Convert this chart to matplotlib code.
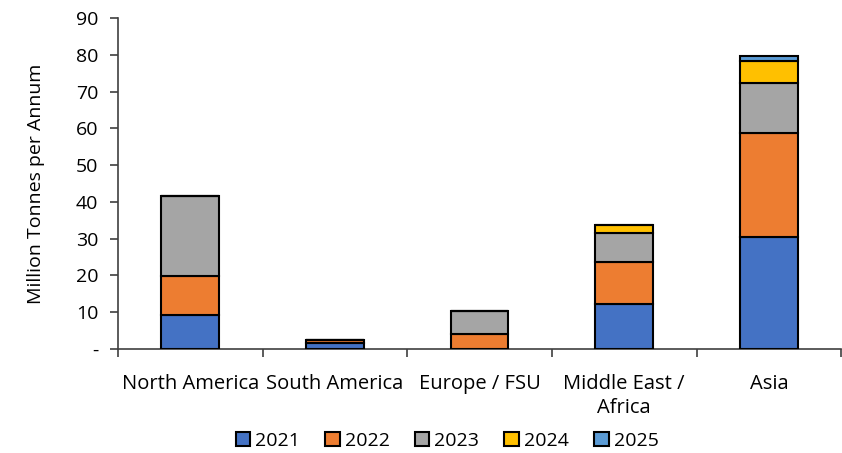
import numpy as np
import matplotlib
matplotlib.use('Agg')
import matplotlib.pyplot as plt
from matplotlib.ticker import FixedLocator

plt.rcParams['font.family'] = ['Open Sans', 'DejaVu Sans']

regions = ['North America', 'South America', 'Europe / FSU', 'Middle East /\nAfrica', 'Asia']
years = ['2021', '2022', '2023', '2024', '2025']
v2021 = [9.3, 1.6, 0.0, 12.3, 30.5]
v2022 = [10.5, 0.8, 4.2, 11.3, 28.2]
v2023 = [21.7, 0.0, 6.2, 7.9, 13.7]
v2024 = [0.2, 0.0, 0.0, 2.3, 6.0]
v2025 = [0.0, 0.0, 0.0, 0.0, 1.3]
colors = ['#4472C4', '#ED7D31', '#A5A5A5', '#FFC000', '#5B9BD5']

fig = plt.figure(figsize=(8.42, 4.53), dpi=100)
ax = fig.add_axes([0.140, 0.2296, 0.859, 0.7307])

x = np.arange(len(regions))
bottom = np.zeros(len(regions))
for yr, vals, c in zip(years, [v2021, v2022, v2023, v2024, v2025], colors):
    vals = np.array(vals)
    ax.bar(x, vals, 0.4, bottom=bottom, color=c, edgecolor='black',
           linewidth=1.5, label=yr, zorder=3)
    bottom += vals

ax.set_xlim(-0.5, len(regions) - 0.5)
ax.set_ylim(0, 90)
ax.set_yticks(np.arange(0, 91, 10))
ax.set_yticklabels(['-'] + [str(v) for v in range(10, 91, 10)])
ax.set_xticks(x)
ax.set_xticklabels(regions, linespacing=1.25)
ax.xaxis.set_minor_locator(FixedLocator(np.arange(-0.5, len(regions), 1.0)))
ax.tick_params(axis='x', which='major', length=0, pad=18, labelsize=14.5)
ax.tick_params(axis='x', which='minor', length=6, width=1.2, color='#404040')
ax.tick_params(axis='y', length=6, width=1.2, color='#404040', labelsize=14, pad=8)
ax.set_ylabel('Million Tonnes per Annum', fontsize=14, labelpad=22)

for s in ['top', 'right']:
    ax.spines[s].set_visible(False)
for s in ['left', 'bottom']:
    ax.spines[s].set_color('#404040')
    ax.spines[s].set_linewidth(1.2)

leg = ax.legend(loc='upper center', bbox_to_anchor=(0.455, -0.216), ncol=5,
                frameon=False, fontsize=14, handlelength=0.75, handleheight=0.75,
                handletextpad=0.25, columnspacing=1.3, borderaxespad=0.2)

fig.savefig('out.png', dpi=100)
